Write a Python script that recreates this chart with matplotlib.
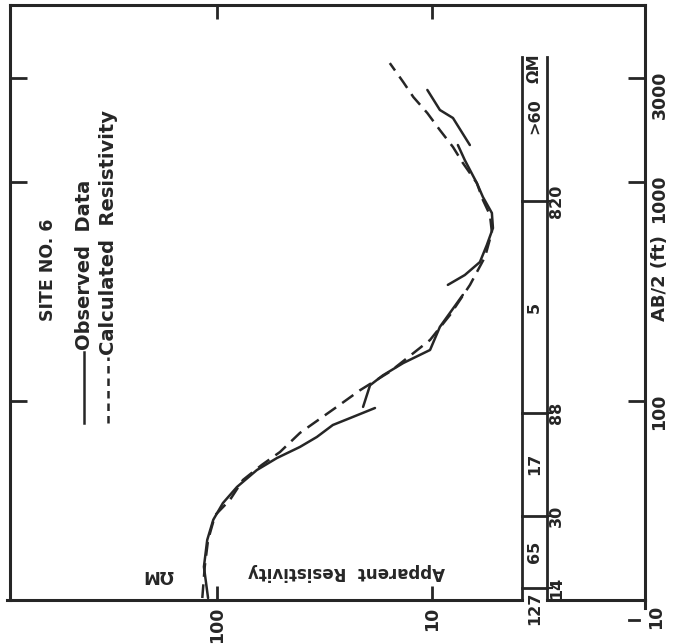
import matplotlib
matplotlib.use("Agg")
import matplotlib.pyplot as plt
import matplotlib.transforms as mtransforms
from matplotlib.lines import Line2D
from matplotlib.ticker import NullLocator

# observed sounding curve, drawn in overlapping segments (AB/2 ft, ohm-m)
obs1_ab2 = [12.6, 17.5, 23.2, 28.7, 34.2, 40.5, 48.4, 54.9, 61.7, 68.5, 77.7, 83.6, 92.9]
obs1_rho = [110, 115, 111, 104, 93.8, 80.7, 65.2, 52.6, 41.1, 34.3, 28.9, 24.0, 18.4]
obs2_ab2 = [94.0, 118, 131, 149, 171, 218, 260, 305]
obs2_rho = [20.9, 19.4, 16.9, 13.6, 10.2, 9.18, 8.07, 7.18]
obs3_ab2 = [339, 376, 431, 516, 616, 722, 854, 989, 1259, 1475]
obs3_rho = [8.43, 7.03, 5.98, 5.55, 5.20, 5.26, 5.79, 6.18, 7.03, 7.57]
obs4_ab2 = [1475, 1960, 2132, 2632]
obs4_rho = [6.66, 7.98, 9.18, 10.5]

# calculated resistivity curve
calc_ab2 = [12.6, 17.5, 23.2, 30.1, 35.3, 43.6, 51.1, 58.5, 71.5, 94.0, 112, 136, 190,
            247, 339, 455, 591, 707, 828, 989, 1222, 1445, 1726, 2064, 2443, 2862, 3490]
calc_rho = [117, 114, 110, 102, 87.1, 75.7, 61.8, 50.9, 41.1, 27.7, 21.6, 15.7, 10.2,
            8.24, 6.65, 5.66, 5.26, 5.37, 5.79, 6.18, 7.18, 7.98, 9.18, 10.5, 12.2, 13.6, 15.7]

# layered model
layer_rho = ["127", "65", "17", "5", ">60"]
layer_depth = [14, 30, 88, 820]

rho_ticks = [10, 100]
ab2_ticks = [100, 1000, 3000]

ink = "#262626"
plt.rcParams["font.family"] = ["DejaVu Sans"]
plt.rcParams["font.weight"] = "bold"

fig = plt.figure(figsize=(6.9, 6.44), dpi=100)
ax = fig.add_axes([10 / 690, 44 / 644, 635 / 690, 595 / 644])
ax.set_xscale("log")
ax.set_yscale("log")
ax.set_xlim(918, 1.02)
ax.set_ylim(12.34, 6430)

for seg_ab2, seg_rho in [(obs1_ab2, obs1_rho), (obs2_ab2, obs2_rho),
                         (obs3_ab2, obs3_rho), (obs4_ab2, obs4_rho)]:
    ax.plot(seg_rho, seg_ab2, color=ink, lw=1.8, solid_capstyle="round")
ax.plot(calc_rho, calc_ab2, color=ink, lw=1.8, linestyle=(0, (5.5, 3)))

# frame
for side in ["left", "top", "right"]:
    ax.spines[side].set_linewidth(2.2)
    ax.spines[side].set_color(ink)
ax.spines["bottom"].set_visible(False)
strip_l, strip_r = 512 / 635, 537 / 635
ax.plot([-0.005, strip_l], [0, 0], transform=ax.transAxes, color=ink, lw=2.2, clip_on=False)
ax.plot([strip_r, 1], [0, 0], transform=ax.transAxes, color=ink, lw=2.2, clip_on=False)

ax.set_xticks(rho_ticks)
ax.set_xticklabels([str(t) for t in rho_ticks])
ax.xaxis.set_minor_locator(NullLocator())
ax.tick_params(axis="x", direction="in", length=10, width=2, top=True, bottom=True,
               labelrotation=90, labelsize=12.5, pad=5, colors=ink)
ax.set_yticks(ab2_ticks)
ax.set_yticklabels([str(t) for t in ab2_ticks])
ax.yaxis.set_minor_locator(NullLocator())
ax.yaxis.tick_right()
ax.tick_params(axis="y", direction="in", length=12, width=2, left=True, right=True,
               labelleft=False, labelright=True, labelrotation=90, labelsize=12.5,
               pad=4, colors=ink)

# AB/2 = 10 sits just below the frame
yb = mtransforms.blended_transform_factory(ax.transAxes, ax.transData)
ax.plot([1, 1], [12.34, 11.4], transform=yb, color=ink, lw=2.2, clip_on=False)
ax.plot([0.975, 0.99], [10, 10], transform=yb, color=ink, lw=2, clip_on=False)
ax.text(1.003, 10.3, "10", transform=yb, rotation=90, ha="left", va="center",
        fontsize=12.5, color=ink, clip_on=False)

# layer model strip
ax.plot([strip_l, strip_l], [12.34, 3720], transform=yb, color=ink, lw=2, clip_on=False)
ax.plot([strip_r, strip_r], [12.34, 3720], transform=yb, color=ink, lw=2, clip_on=False)
for d in layer_depth:
    ax.plot([strip_l, strip_r], [d, d], transform=yb, color=ink, lw=2)
    ax.plot([strip_r, strip_r + 0.008], [d, d], transform=yb, color=ink, lw=1.5)
    ax.text(strip_r + 0.003, d, str(d), transform=yb, rotation=90, ha="left",
            va="center", fontsize=11.5, color=ink)
mids = [11.3, (14 * 30) ** 0.5, (30 * 88) ** 0.5, (88 * 820) ** 0.5, 2000]
xc = (strip_l + strip_r) / 2
for lab, m in zip(layer_rho, mids):
    ax.text(xc, m, lab, transform=yb, rotation=90, ha="center", va="center",
            fontsize=11.5, color=ink, clip_on=False)
ax.text(xc, 3300, "\u03a9M", transform=yb, rotation=90, ha="center", va="center",
        fontsize=11.5, color=ink)

# axis titles
ax.text(336 / 635, 28 / 595, "Apparent  Resistivity", transform=ax.transAxes,
        rotation=180, ha="center", va="center", fontsize=12, color=ink)
ax.text(148 / 635, 25 / 595, "\u03a9M", transform=ax.transAxes, rotation=180,
        ha="center", va="center", fontsize=12, color=ink)
fig.text(660 / 690, 1 - 278 / 644, "AB/2 (ft)", rotation=90, ha="center",
         va="center", fontsize=13, color=ink)

# legend
fig.text(48 / 690, 1 - 270 / 644, "SITE NO. 6", rotation=90, ha="center",
         va="center", fontsize=12.5, color=ink)
fig.add_artist(Line2D([84 / 690, 84 / 690], [1 - 423 / 644, 1 - 352 / 644],
                      color=ink, lw=1.8))
fig.text(84 / 690, 1 - 350 / 644, "Observed  Data", rotation=90, ha="center",
         va="bottom", fontsize=14, color=ink)
fig.add_artist(Line2D([108 / 690, 108 / 690], [1 - 423 / 644, 1 - 357 / 644],
                      color=ink, lw=1.8, linestyle=(0, (3, 2))))
fig.text(108 / 690, 1 - 355 / 644, "Calculated  Resistivity", rotation=90,
         ha="center", va="bottom", fontsize=14, color=ink)

fig.savefig("out.png", dpi=100)
